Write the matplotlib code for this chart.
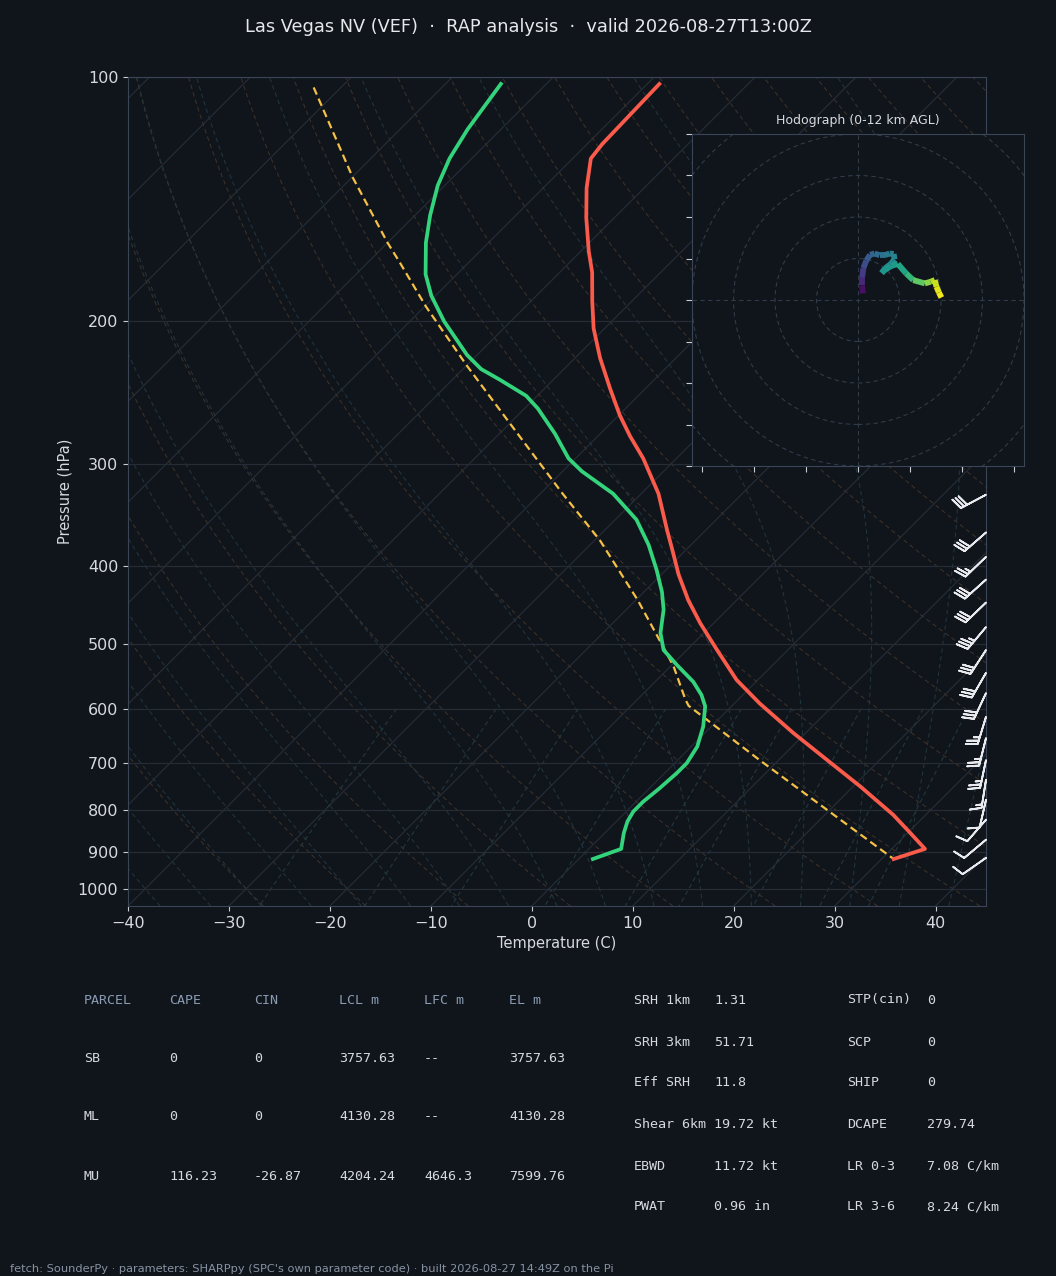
import numpy as np
import matplotlib
matplotlib.use("Agg")
import matplotlib.pyplot as plt
from matplotlib.transforms import Affine2D, blended_transform_factory
from matplotlib.collections import LineCollection
from matplotlib.patches import Circle
from matplotlib.ticker import NullLocator

# ---- sounding values ----
temp_p = [102, 121, 126, 137, 149, 164, 174, 189, 204, 222, 242, 261, 277, 295, 326,
          361, 382, 410, 441, 471, 508, 553, 591, 643, 694, 748, 811, 854, 893, 919]
temp_c = [-68.8, -68.5, -68.2, -65.7, -62.8, -59.2, -56.8, -53.9, -51.1, -47.5, -43.5,
          -39.9, -36.8, -33.3, -28.3, -23.9, -21.4, -18.3, -14.8, -11.3, -7.0, -2.1,
          2.5, 8.8, 14.8, 20.7, 26.8, 30.3, 33.3, 31.2]

dewp_p = [102, 110, 116, 126, 136, 148, 160, 175, 186, 200, 220, 229, 236, 247, 256,
          275, 295, 306, 326, 351, 377, 405, 431, 453, 484, 508, 530, 556, 577, 596,
          631, 668, 700, 720, 752, 781, 803, 826, 854, 893, 919]
dewp_c = [-84.5, -83.8, -83.3, -82.2, -80.7, -78.5, -76.2, -73.1, -70.4, -66.6, -61.0,
          -58.2, -55.3, -51.1, -48.7, -44.5, -40.7, -38.1, -32.8, -27.9, -24.2, -20.9,
          -18.2, -16.3, -14.3, -12.3, -9.5, -6.2, -4.1, -2.6, -0.8, 0.6, 1.2, 1.2, 1.0,
          0.7, 0.7, 1.1, 1.9, 3.2, 1.4]

parcel_p = [103, 133, 160, 169, 192, 227, 275, 326, 372, 441, 503, 532, 585, 595, 694, 919]
parcel_c = [-102.7, -89.9, -80.0, -76.9, -69.8, -59.9, -48.2, -37.8, -29.5, -19.8,
            -12.7, -9.7, -5.2, -4.3, 8.1, 31.2]

# wind barbs (pressure hPa, speed kt, direction from deg)
barb_p = [327, 364, 390, 416, 444, 476, 508, 542, 574, 614, 652, 694, 734, 777, 822, 870, 916]
barb_spd = [30, 30, 25, 30, 30, 35, 30, 30, 30, 25, 25, 25, 15, 10, 10, 10, 10]
barb_dir = [242, 229, 226, 228, 226, 220, 213, 210, 205, 197, 194, 192, 189, 193, 221, 230, 235]

# hodograph trace (kt) and height (km AGL)
hodo_u = [1.2, 1.0, 1.0, 1.3, 2.0, 2.9, 4.0, 5.2, 6.4, 7.6, 8.6, 8.8, 7.8, 6.5, 5.7,
          6.4, 8.0, 9.6, 11.6, 13.3, 16.1, 17.5, 18.5, 18.9, 19.5, 20.1]
hodo_v = [1.6, 3.5, 5.5, 7.7, 9.5, 10.9, 11.2, 10.8, 10.8, 11.2, 11.1, 9.8, 8.6, 7.6, 6.5,
          7.2, 8.2, 8.7, 6.4, 4.8, 4.0, 4.4, 4.8, 3.2, 1.8, 0.6]
hodo_z = [0.0, 1.0, 1.8, 2.4, 3.1, 3.6, 4.0, 4.3, 4.7, 5.0, 5.3, 5.5, 5.7, 6.0, 6.1,
          6.3, 6.5, 6.7, 7.5, 8.4, 9.6, 10.2, 10.8, 11.3, 11.6, 12.0]

pres_ticks = [100, 200, 300, 400, 500, 600, 700, 800, 900, 1000]
temp_ticks = [-40, -30, -20, -10, 0, 10, 20, 30, 40]

parcel_head = ["PARCEL", "CAPE", "CIN", "LCL m", "LFC m", "EL m"]
parcel_rows = [["SB", "0", "0", "3757.63", "--", "3757.63"],
               ["ML", "0", "0", "4130.28", "--", "4130.28"],
               ["MU", "116.23", "-26.87", "4204.24", "4646.3", "7599.76"]]
stat_left = [("SRH 1km", "1.31"), ("SRH 3km", "51.71"), ("Eff SRH", "11.8"),
             ("Shear 6km", "19.72 kt"), ("EBWD", "11.72 kt"), ("PWAT", "0.96 in")]
stat_right = [("STP(cin)", "0"), ("SCP", "0"), ("SHIP", "0"), ("DCAPE", "279.74"),
              ("LR 0-3", "7.08 C/km"), ("LR 3-6", "8.24 C/km")]

BG = "#10141b"
FG = "#d6dae0"
GRID = "#252c36"
SPINE = "#3a4555"

W, H = 1056, 1276
fig = plt.figure(figsize=(W / 100, H / 100), dpi=100)
fig.patch.set_facecolor(BG)

ax_w, ax_h = 858, 829
ax = fig.add_axes([128 / W, 1 - 906 / H, ax_w / W, ax_h / H])
ax.set_facecolor(BG)
ax.set_yscale("log")
ax.set_ylim(1050, 100)
ax.set_xlim(-40, 45)
ax.set_autoscale_on(False)
ax.yaxis.set_minor_locator(NullLocator())
ax.set_yticks(pres_ticks)
ax.set_yticklabels([str(p) for p in pres_ticks])
ax.set_xticks(temp_ticks)
ax.tick_params(colors=FG, labelsize=11.5, color="#c8ccd2")
for s in ax.spines.values():
    s.set_color(SPINE)
ax.set_xlabel("Temperature (C)", color=FG, fontsize=10.5)
ax.set_ylabel("Pressure (hPa)", color=FG, fontsize=10.5)
ax.yaxis.grid(True, color=GRID, lw=0.9)

# skew in display space: isotherms at 45 deg
skew = (ax.transData + ax.transAxes.inverted()
        + Affine2D().skew(np.arctan(ax_h / ax_w), 0) + ax.transAxes)

pp = np.geomspace(1050, 100, 120)

# isotherms
for t in range(-130, 50, 10):
    ax.plot([t, t], [1050, 100], color=GRID, lw=0.9, transform=skew, zorder=1)

# dry adiabats
for th in np.arange(-30, 200.1, 10):
    tt = (th + 273.15) * (pp / 1000.0) ** 0.2857 - 273.15
    ax.plot(tt, pp, color="#3a3128", lw=0.8, ls=(0, (4, 3)), transform=skew, zorder=1)


# moist adiabats (simple integration of the saturated lapse rate)
def es(tc):
    return 6.112 * np.exp(17.67 * tc / (tc + 243.5))


def lapse(t, p):
    e = min(es(t - 273.15), p * 0.5)
    rs = 0.622 * e / (p - e)
    return (287.0 * t + 2.5e6 * rs) / (1005.0 + 2.5e6 ** 2 * rs * 0.622 / (287.0 * t * t)) / p


def moist_line(t0, prs):
    t = t0 + 273.15
    p_prev = 1000.0
    for p in np.linspace(1000, 1050, 40)[1:]:
        t += lapse(t, p_prev) * (p - p_prev)
        p_prev = p
    fine = np.geomspace(1050, 100, 600)
    vals = [t]
    for p in fine[1:]:
        t += lapse(t, p_prev) * (p - p_prev)
        p_prev = p
        vals.append(t)
    return np.interp(-np.log(prs), -np.log(fine), np.array(vals)) - 273.15


for t0 in np.arange(-50, 45.1, 5):
    ax.plot(moist_line(t0, pp), pp, color="#20343d", lw=0.8, ls=(0, (4, 3)),
            transform=skew, zorder=1)

# mixing ratio lines
pm = np.linspace(600, 1050, 20)
for w in [0.4, 1, 2, 4, 7, 10, 16, 24, 32]:
    e = (w / 1000.0) * pm / (0.622 + w / 1000.0)
    lg = np.log(e / 6.112)
    td = 243.5 * lg / (17.67 - lg)
    ax.plot(td, pm, color="#22393d", lw=0.8, ls=(0, (4, 3)), transform=skew, zorder=1)

# profiles
ax.plot(parcel_c, parcel_p, color="#f4c146", lw=1.6, ls=(0, (3.5, 2)), transform=skew, zorder=4)
ax.plot(temp_c, temp_p, color="#fb5b4b", lw=2.7, transform=skew, zorder=5)
ax.plot(dewp_c, dewp_p, color="#33d47b", lw=2.7, transform=skew, zorder=5)

# barbs on right edge
bd = np.deg2rad(barb_dir)
bu = -np.array(barb_spd) * np.sin(bd)
bv = -np.array(barb_spd) * np.cos(bd)
bt = blended_transform_factory(ax.transAxes, ax.transData)
ax.barbs(np.ones(len(barb_p)), barb_p, bu, bv, transform=bt, length=6.4,
         color="#e8eaee", linewidth=1.3, clip_on=False, zorder=6)

# hodograph
hx = fig.add_axes([692 / W, 1 - 466 / H, 332 / W, 332 / H])
hx.set_facecolor(BG)
hx.set_xlim(-40, 40)
hx.set_ylim(-40, 40)
hx.set_xticks(np.arange(-37.5, 37.6, 12.5))
hx.set_yticks(np.arange(-40, 40.1, 10))
hx.set_xticklabels([])
hx.set_yticklabels([])
hx.tick_params(color="#c8ccd2", length=4)
for s in hx.spines.values():
    s.set_color(SPINE)
for r in range(10, 61, 10):
    hx.add_patch(Circle((0, 0), r, fill=False, ls=(0, (4, 3)), lw=0.8, color="#303b49"))
hx.axhline(0, color="#303b49", lw=0.8, ls=(0, (4, 3)))
hx.axvline(0, color="#303b49", lw=0.8, ls=(0, (4, 3)))
pts = np.column_stack([hodo_u, hodo_v])
segs = np.stack([pts[:-1], pts[1:]], axis=1)
lc = LineCollection(segs, cmap="viridis", norm=plt.Normalize(0, 12), linewidths=4.2)
lc.set_array(0.5 * (np.array(hodo_z[:-1]) + np.array(hodo_z[1:])))
hx.add_collection(lc)
hx.set_title("Hodograph (0-12 km AGL)", color=FG, fontsize=9, pad=7)

# title and footer
fig.text(0.5, 1 - 27 / H, "Las Vegas NV (VEF)  \u00b7  RAP analysis  \u00b7  valid 2026-08-27T13:00Z",
         ha="center", va="center", color="#e6e8ec", fontsize=12.8)
fig.text(10 / W, 1 - 1269 / H,
         "fetch: SounderPy \u00b7 parameters: SHARPpy (SPC's own parameter code) \u00b7 built 2026-08-27 14:49Z on the Pi",
         ha="left", va="center", color="#8793a3", fontsize=8.2)

# parcel table
mono = "DejaVu Sans Mono"
col_x = [84, 169, 254, 339, 424, 509]
row_y = [1000, 1059, 1117, 1176]
for cx, txt in zip(col_x, parcel_head):
    fig.text(cx / W, 1 - row_y[0] / H, txt, family=mono, fontsize=9.6, color="#8a9bb2",
             ha="left", va="center")
for ry, row in zip(row_y[1:], parcel_rows):
    for cx, txt in zip(col_x, row):
        fig.text(cx / W, 1 - ry / H, txt, family=mono, fontsize=9.6, color=FG,
                 ha="left", va="center")

stat_y = [1000, 1042, 1083, 1124, 1166, 1207]
for sy, (a, b), (c, d) in zip(stat_y, stat_left, stat_right):
    fig.text(634 / W, 1 - sy / H, a, family=mono, fontsize=9.6, color=FG, va="center")
    fig.text(714 / W, 1 - sy / H, b, family=mono, fontsize=9.6, color=FG, va="center")
    fig.text(847 / W, 1 - sy / H, c, family=mono, fontsize=9.6, color=FG, va="center")
    fig.text(927 / W, 1 - sy / H, d, family=mono, fontsize=9.6, color=FG, va="center")

fig.savefig("out.png", dpi=100, facecolor=BG)
